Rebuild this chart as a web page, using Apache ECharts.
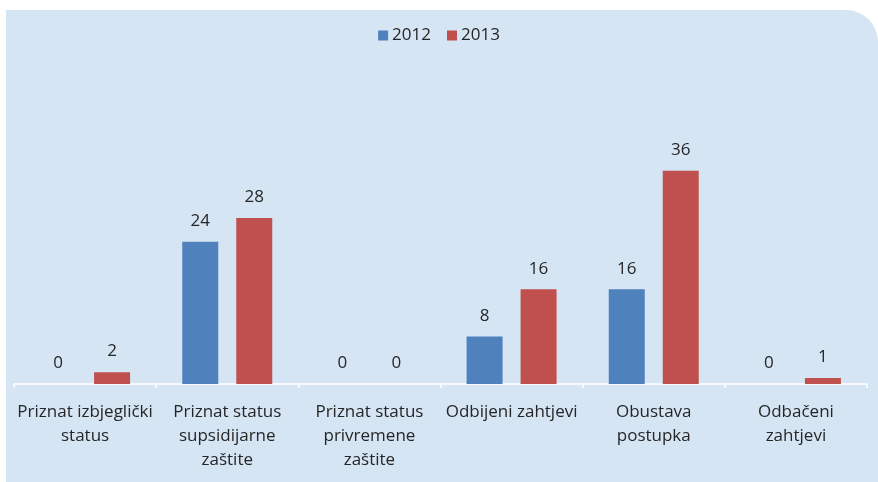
<!DOCTYPE html>
<html>
<head>
<meta charset="utf-8">
<script src="https://cdn.jsdelivr.net/npm/echarts@6/dist/echarts.min.js"></script>
<style>
  html, body { margin: 0; padding: 0; background: #fff; }
  #chart { width: 878px; height: 482px; }
</style>
</head>
<body>
<div id="chart"></div>
<script>
const categories = [
  'Priznat izbjeglički\nstatus',
  'Priznat status\nsupsidijarne\nzaštite',
  'Priznat status\nprivremene\nzaštite',
  'Odbijeni zahtjevi',
  'Obustava\npostupka',
  'Odbačeni\nzahtjevi'
];
const values2012 = [0, 24, 0, 8, 16, 0];
const values2013 = [2, 28, 0, 16, 36, 1];

const font = 'Open Sans';
const chart = echarts.init(document.getElementById('chart'));

const labelStyle = {
  show: true,
  position: 'top',
  distance: 12,
  color: '#262626',
  fontFamily: font,
  fontSize: 17
};

chart.setOption({
  animation: false,
  textStyle: { fontFamily: font },
  graphic: [{
    type: 'rect',
    z: -10,
    silent: true,
    shape: { x: 6, y: 10, width: 872, height: 472, r: [0, 32, 0, 0] },
    style: { fill: '#D5E5F4' }
  }],
  legend: {
    top: 22,
    left: 'center',
    itemWidth: 10,
    itemHeight: 10,
    itemGap: 16,
    icon: 'rect',
    textStyle: { color: '#262626', fontSize: 17, fontFamily: font, padding: [0, 0, 0, -1] }
  },
  grid: { left: 14, right: 11, top: 147, bottom: 98 },
  xAxis: {
    type: 'category',
    data: categories,
    axisLine: { lineStyle: { color: '#FFFFFF', width: 1.5 } },
    axisTick: { show: true, length: 4, lineStyle: { color: '#FFFFFF', width: 1.5 } },
    axisLabel: {
      interval: 0,
      color: '#262626',
      fontSize: 17,
      fontFamily: font,
      lineHeight: 24,
      margin: 16
    }
  },
  yAxis: {
    type: 'value',
    min: 0,
    max: 40,
    show: false,
    splitLine: { show: false }
  },
  series: [
    {
      name: '2012',
      type: 'bar',
      data: values2012,
      barWidth: 36,
      barGap: '50%',
      itemStyle: { color: '#4F81BD' },
      label: labelStyle
    },
    {
      name: '2013',
      type: 'bar',
      data: values2013,
      barWidth: 36,
      itemStyle: { color: '#C0504D' },
      label: labelStyle
    }
  ]
});
</script>
</body>
</html>
